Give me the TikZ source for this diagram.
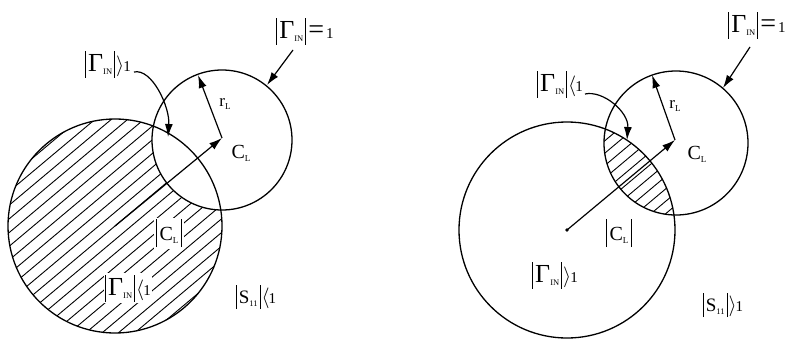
\documentclass[tikz,border=0pt]{standalone}
\usepackage{fontspec}
\setmainfont{Liberation Serif}
\usetikzlibrary{calc,arrows.meta}
\newcommand{\vbar}[2]{\rule[#1]{1pt}{#2}}
\newcommand{\Gin}{{\fontsize{26}{26}\selectfont Γ}\raisebox{-3pt}{\fontsize{8.5}{8.5}\selectfont IN}}
\newcommand{\absGin}{\vbar{-6pt}{27pt}\hspace{2pt}\Gin\hspace{2pt}\vbar{-6pt}{27pt}}
\newcommand{\gtone}{\hspace{1pt}{\fontsize{21}{21}\selectfont$\rangle$}\hspace{-1pt}{\fontsize{15}{15}\selectfont 1}}
\newcommand{\ltone}{\hspace{1pt}{\fontsize{21}{21}\selectfont$\langle$}\hspace{-1pt}{\fontsize{15}{15}\selectfont 1}}
\newcommand{\eqone}{\hspace{2pt}{\fontsize{28}{28}\selectfont =}\hspace{2pt}{\fontsize{15}{15}\selectfont 1}}
\newcommand{\CL}{{\fontsize{20}{20}\selectfont C}\raisebox{-3pt}{\fontsize{9}{9}\selectfont L}}
\newcommand{\absCL}{\vbar{-7pt}{28pt}\hspace{3pt}\CL\hspace{3pt}\vbar{-7pt}{28pt}}
\newcommand{\absS}{\vbar{-6pt}{24pt}\hspace{2pt}{\fontsize{19}{19}\selectfont S}\raisebox{-3pt}{\fontsize{8.5}{8.5}\selectfont 11}\hspace{2pt}\vbar{-6pt}{24pt}}
\newcommand{\rL}{{\fontsize{17}{17}\selectfont r}\raisebox{-3pt}{\fontsize{9}{9}\selectfont L}}
\begin{document}
\begin{tikzpicture}[x=1pt,y=-1pt,
  circ/.style={line width=1.3pt},
  hatch/.style={line width=0.9pt},
  arr/.style={line width=1.2pt,-{Latex[length=13pt,width=8pt]}},
  lab/.style={inner sep=0pt,anchor=center},
  labw/.style={inner sep=1.5pt,fill=white,anchor=center}]
\useasboundingbox[fill=white] (0,0) rectangle (801,343);
% ---------- left panel ----------
\coordinate (B1) at (115,226);
\coordinate (c1) at (222,140);
\coordinate (CL1) at (222,138);
\begin{scope}
  \clip (B1) circle (107);
  \foreach \k in {-22,...,22}
    \draw[hatch] ($(B1)+({\k*10.5*0.643-200*0.766},{\k*10.5*0.766+200*0.643})$) -- ++({400*0.766},{-400*0.643});
\end{scope}
\fill[white] (c1) circle (70);
\draw[circ] (B1) circle (107);
\draw[circ] (c1) circle (70);
\draw[arr] (B1) -- (CL1);
\coordinate (rt1) at ($(c1)+(-24,-65)$);
\draw[arr] (CL1) -- (rt1);
\node[lab] (lCL) at (241,153) {\CL};
\node[lab] (lrL) at (225,104) {\rL};
\node[lab] (lG1) at (305,31) {\absGin\eqone};
\coordinate (e1) at ($(c1)+(45,-55)$);
\draw[arr] (293,50) -- (e1);
\node[lab] (lGgt) at (108,64) {\absGin\gtone};
\draw[arr] (lGgt.east) ++(3,8) .. controls +(18,-4) and +(2,-30) .. (168,137);
\node[labw] (lCLabs) at (169,233) {\absCL};
\node[labw] (lGlt) at (128,288) {\absGin\ltone};
\node[lab] (lS) at (256,297) {\absS\ltone};
% ---------- right panel ----------
\coordinate (B2) at (567,230);
\coordinate (c2) at (676,143);
\coordinate (CL2) at (675,140);
\begin{scope}
  \clip (B2) circle (108);
  \clip (c2) circle (72);
  \foreach \k in {-20,...,20}
    \draw[hatch] ($(c2)+({\k*9.5*0.643-200*0.766},{\k*9.5*0.766+200*0.643})$) -- ++({400*0.766},{-400*0.643});
\end{scope}
\draw[circ] (B2) circle (108);
\draw[circ] (c2) circle (72);
\fill (B2) circle (1.8);
\draw[arr] (B2) -- (CL2);
\coordinate (rt2) at ($(c2)+(-24,-68)$);
\draw[arr] (CL2) -- (rt2);
\node[lab] (rCL) at (697,154) {\CL};
\node[lab] (rrL) at (675,106) {\rL};
\node[lab] (rG1) at (757,25) {\absGin\eqone};
\coordinate (e2) at ($(c2)+(47,-55)$);
\draw[arr] (750,47) -- (e2);
\node[lab] (rGlt) at (560,84) {\absGin\ltone};
\draw[arr] (rGlt.east) ++(2,10) .. controls +(18,-4) and +(2,-28) .. (627,140);
\node[lab] (rCLabs) at (619,233) {\absCL};
\node[lab] (rGgt) at (555,275) {\absGin\gtone};
\node[lab] (rS) at (723,305) {\absS\gtone};
\end{tikzpicture}
\end{document}
